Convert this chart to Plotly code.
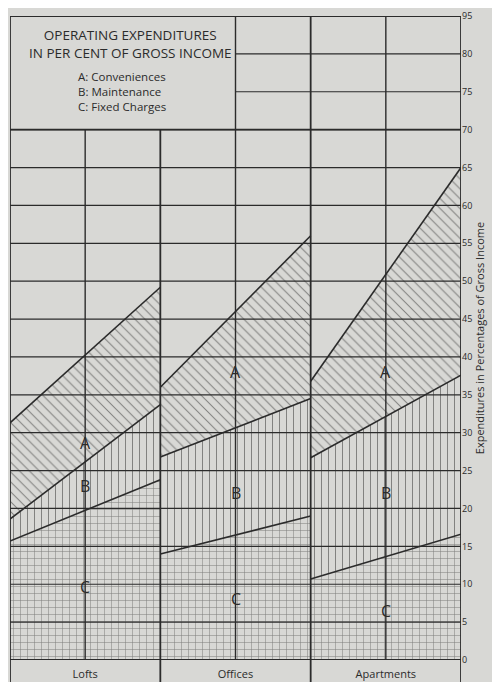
import plotly.graph_objects as go

# building types and the three cost bands (start/end of each panel, % of gross income)
panels = ["Lofts", "Offices", "Apartments"]
fixed_top = [(15.7, 23.8), (14.0, 19.0), (10.7, 16.6)]        # C: Fixed Charges
maint_top = [(18.6, 33.7), (26.8, 34.5), (26.7, 37.6)]        # B: Maintenance
conv_top = [(31.3, 49.2), (36.0, 56.0), (36.8, 65.0)]         # A: Conveniences
letter_y = {"A": [28.7, 38.0, 38.0], "B": [23.0, 22.0, 22.0], "C": [9.6, 8.0, 6.5]}
y_ticks = [0, 5, 10, 15, 20, 25, 30, 35, 40, 45, 50, 55, 60, 65, 70, 75, 80, 85]
y_labels = ["0", "5", "10", "15", "20", "25", "30", "35", "40", "45", "50",
            "55", "60", "65", "70", "75", "80", "95"]

paper = "#d8d8d5"
ink = "#2b2b2b"

fig = go.Figure()

for i, name in enumerate(panels):
    xs = [i, i + 1]
    fig.add_trace(go.Scatter(
        x=xs, y=list(fixed_top[i]), mode="lines", fill="tozeroy",
        line=dict(color=ink, width=1.6), fillcolor=paper,
        fillpattern=dict(shape="+", fgcolor=ink, bgcolor=paper, size=7, solidity=0.15),
        showlegend=False, hoverinfo="skip"))
    fig.add_trace(go.Scatter(
        x=xs, y=list(maint_top[i]), mode="lines", fill="tonexty",
        line=dict(color=ink, width=1.6), fillcolor=paper,
        fillpattern=dict(shape="|", fgcolor=ink, bgcolor=paper, size=7, solidity=0.15),
        showlegend=False, hoverinfo="skip"))
    fig.add_trace(go.Scatter(
        x=xs, y=list(conv_top[i]), mode="lines", fill="tonexty",
        line=dict(color=ink, width=1.6), fillcolor=paper,
        fillpattern=dict(shape="\\", fgcolor=ink, bgcolor=paper, size=7, solidity=0.15),
        showlegend=False, hoverinfo="skip"))
    for letter, ys in letter_y.items():
        fig.add_annotation(x=i + 0.5, y=ys[i], text=letter, showarrow=False,
                           font=dict(size=16, color=ink))

shapes = []
# horizontal rules
for v in range(5, 71, 5):
    shapes.append(dict(type="line", x0=0, x1=3, y0=v, y1=v, layer="above",
                       line=dict(color=ink, width=1.2)))
for v in (75, 80):
    shapes.append(dict(type="line", x0=1.5, x1=3, y0=v, y1=v, layer="above",
                       line=dict(color=ink, width=1.2)))
# vertical rules
for xv in (0.5, 1.0):
    shapes.append(dict(type="line", x0=xv, x1=xv, y0=0, y1=70, layer="above",
                       line=dict(color=ink, width=1.4 if xv == 0.5 else 1.8)))
for xv in (1.5, 2.5):
    shapes.append(dict(type="line", x0=xv, x1=xv, y0=0, y1=85, layer="above",
                       line=dict(color=ink, width=1.4)))
for xv in (0, 2, 3):
    shapes.append(dict(type="line", x0=xv, x1=xv, y0=0, y1=85, layer="above",
                       line=dict(color=ink, width=1.8)))
for xv in (0, 1, 2, 3):
    shapes.append(dict(type="line", x0=xv, x1=xv, y0=0, y1=-0.05, yref="paper",
                       xref="x", layer="above", line=dict(color=ink, width=1.8)))
shapes.append(dict(type="line", x0=0, x1=3, y0=85, y1=85, layer="above",
                   line=dict(color=ink, width=1.8)))
shapes.append(dict(type="line", x0=0, x1=3, y0=0, y1=0, layer="above",
                   line=dict(color=ink, width=1.8)))
shapes.append(dict(type="line", x0=0, x1=3, y0=70, y1=70, layer="above",
                   line=dict(color=ink, width=1.8)))

fig.add_annotation(x=0.8, y=81.3, text="OPERATING EXPENDITURES<br>IN PER CENT OF GROSS INCOME",
                   showarrow=False, align="center",
                   font=dict(family="Open Sans", size=13.5, color=ink))
fig.add_annotation(x=0.44, y=75.0, xanchor="left",
                   text="A: Conveniences<br>B: Maintenance<br>C: Fixed Charges",
                   showarrow=False, align="left",
                   font=dict(family="Open Sans", size=11.5, color=ink))

fig.update_layout(
    width=500, height=682,
    margin=dict(l=2, r=47, t=8, b=30, autoexpand=False),
    paper_bgcolor=paper, plot_bgcolor=paper,
    font=dict(family="Open Sans", color=ink),
    shapes=shapes,
    xaxis=dict(range=[0, 3], tickvals=[0.5, 1.5, 2.5], ticktext=panels,
               showgrid=False, zeroline=False, ticks="", tickfont=dict(size=11),
               ticklabelstandoff=6, automargin=False),
    yaxis=dict(range=[0, 85], side="right", tickvals=y_ticks, ticktext=y_labels,
               showgrid=False, zeroline=False, ticks="", tickfont=dict(size=9),
               automargin=False,
               title=dict(text="Expenditures in Percentages of Gross Income",
                          font=dict(size=11), standoff=4)),
)

fig.write_html("out.html")
